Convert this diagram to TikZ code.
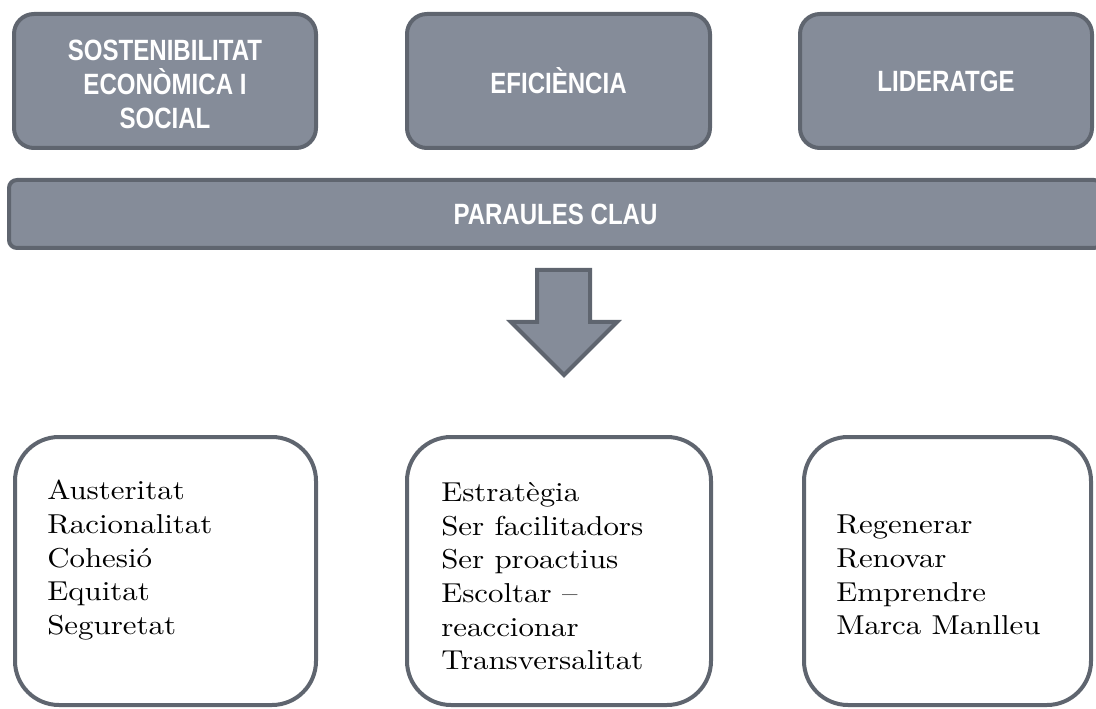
\documentclass[tikz,border=0pt]{standalone}
\usepackage{fontspec}
\newfontfamily\headfont[FakeStretch=0.82]{Liberation Sans}
\newfontfamily\wordfont{lmroman10-regular}[Extension=.otf, FakeStretch=1.13]
\usetikzlibrary{positioning}
\definecolor{kwfill}{RGB}{133,140,153}
\definecolor{kwedge}{RGB}{95,101,111}

\begin{document}
\begin{tikzpicture}[x=0.75pt, y=-0.75pt,
  topbox/.style={rectangle, rounded corners=15pt, draw=kwedge, fill=kwfill, line width=3pt,
    text=white, font=\headfont\bfseries\fontsize{22}{25.5}\selectfont, align=center,
    minimum height=100.5pt, inner sep=0pt},
  wordbox/.style={rectangle, rounded corners=33pt, draw=kwedge, fill=white, line width=3pt,
    minimum height=201pt, inner sep=0pt},
  words/.style={anchor=north west, inner sep=0pt, align=left, font=\wordfont\fontsize{20.5}{25.25}\selectfont}]
\useasboundingbox (0,0) rectangle (1096,709);

% Three headings
\node[topbox, minimum width=226.5pt] (sost) at (165,81) {\rule{0pt}{20pt}SOSTENIBILITAT\\ECONÒMICA I\\SOCIAL};
\node[topbox, minimum width=227.25pt] (efic) at (558.5,81) {EFICIÈNCIA};
\node[topbox, minimum width=219pt] (lide) at (946,81) {LIDERATGE};

% Banner
\node[topbox, rounded corners=6pt, minimum width=819.75pt, minimum height=51pt] (clau) at (555.5,214) {PARAULES CLAU};

% Block arrow
\draw[kwedge, fill=kwfill, line width=3pt, miter limit=4]
  (537,270) -- (590,270) -- (590,322) -- (617,322) -- (564,375) -- (511,322) -- (537,322) -- cycle;

% Word boxes
\node[wordbox, minimum width=225.75pt] (wsost) at (165.5,571) {};
\node[wordbox, minimum width=228pt] (wefic) at (559,571) {};
\node[wordbox, minimum width=215.25pt] (wlide) at (947.5,571) {};

\node[words] (tsost) at (47,480) {Austeritat\\Racionalitat\\Cohesió\\Equitat\\Seguretat};
\node[words] (tefic) at (441,482) {Estratègia\\Ser facilitadors\\Ser proactius\\Escoltar –\\reaccionar\\Transversalitat};
\node[words] (tlide) at (836,515) {Regenerar\\Renovar\\Emprendre\\Marca Manlleu};
\end{tikzpicture}
\end{document}
